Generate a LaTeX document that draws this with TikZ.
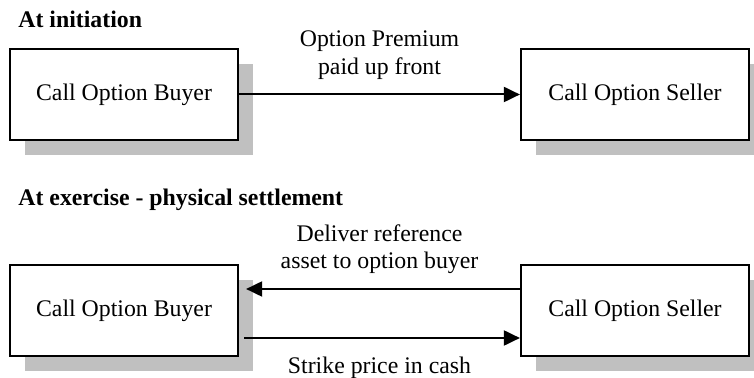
\documentclass[tikz,border=0pt]{standalone}
\usepackage{fontspec}
\setmainfont{Liberation Serif}
\usetikzlibrary{arrows.meta,shadows}
\definecolor{shadowgray}{RGB}{192,192,192}
\tikzset{
  party/.style={draw=black, line width=1.1pt, fill=white, minimum width=114pt,
    minimum height=45.5pt, inner sep=0pt,
    general shadow={fill=shadowgray, shadow xshift=7.5pt, shadow yshift=-7.5pt}},
  flow/.style={line width=1pt, -{Triangle[length=8pt,width=7.5pt]}},
  heading/.style={anchor=base west, inner sep=0pt},
  flowlabel/.style={anchor=base, inner sep=0pt, align=center}
}
\begin{document}
\begin{tikzpicture}[x=0.5pt, y=-0.5pt,
  every node/.append style={font=\fontsize{11.9}{13.75}\selectfont}]
  \useasboundingbox (0,0) rectangle (754,378);

  % At initiation
  \node[heading] (h1) at (18,28) {\bfseries At initiation};
  \node[party] (buyer1) at (124,94.5) {Call Option Buyer};
  \node[party] (seller1) at (635,94.5) {Call Option Seller};
  \draw[flow] (buyer1.east) -- (seller1.west);
  % base anchor of a two-line label sits on its last line
  \node[flowlabel] (premium) at (379.5,74.5) {Option Premium\\paid up front};

  % At exercise
  \node[heading] (h2) at (18,206) {\bfseries At exercise - physical settlement};
  \node[party] (buyer2) at (124,310.5) {Call Option Buyer};
  \node[party] (seller2) at (635,310.5) {Call Option Seller};
  \draw[flow] ([yshift=10.75pt]seller2.west) -- ([xshift=3.5pt,yshift=10.75pt]buyer2.east);
  \draw[flow] ([xshift=2.5pt,yshift=-13.75pt]buyer2.east) -- ([yshift=-13.75pt]seller2.west);
  \node[flowlabel] (deliver) at (379.5,269) {Deliver reference\\asset to option buyer};
  \node[flowlabel] (strike) at (379.5,374) {Strike price in cash};
\end{tikzpicture}
\end{document}
